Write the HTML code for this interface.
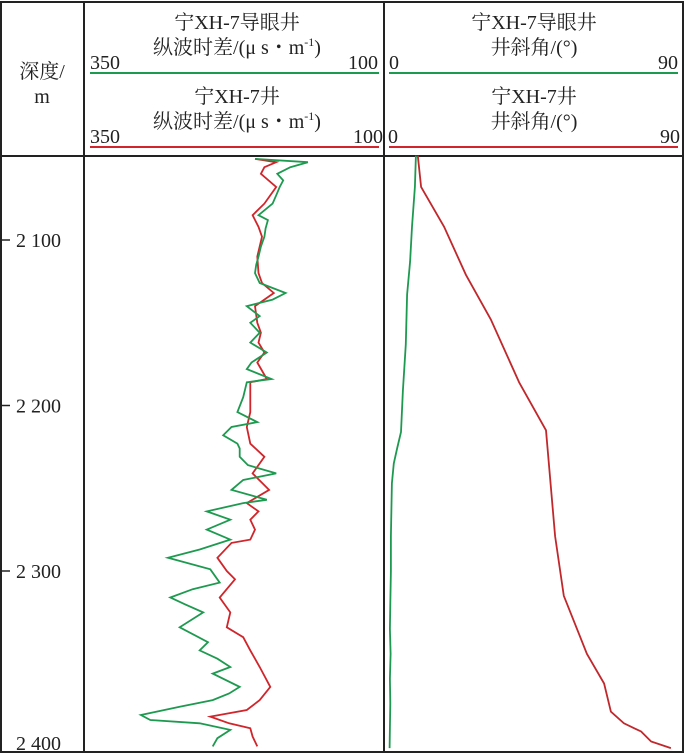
<!DOCTYPE html>
<html><head><meta charset="utf-8">
<style>
html,body{margin:0;padding:0;background:#fff;}
svg{display:block;}
text{font-family:"Liberation Serif","Noto Serif CJK SC",serif;font-size:20px;fill:#222;}
</style></head>
<body>
<svg id="chart" width="700" height="754" viewBox="0 0 700 754">
  <rect x="1" y="2" width="682" height="750" fill="none" stroke="#222" stroke-width="2"/>
  <line x1="84" y1="2" x2="84" y2="752" stroke="#222" stroke-width="2"/>
  <line x1="384" y1="2" x2="384" y2="752" stroke="#222" stroke-width="2"/>
  <line x1="1" y1="156" x2="683" y2="156" stroke="#222" stroke-width="2"/>

  <text x="42" y="78" text-anchor="middle">深度/</text>
  <text x="42" y="103" text-anchor="middle">m</text>

  <g>
    <text x="237" y="29" text-anchor="middle">宁XH-7导眼井</text>
    <text x="237" y="54" text-anchor="middle">纵波时差/(μ s・m<tspan dy="-8" font-size="12">-1</tspan><tspan dy="8">)</tspan></text>
    <text x="90" y="69">350</text>
    <text x="378" y="69" text-anchor="end">100</text>
    <line x1="90" y1="73" x2="379" y2="73" stroke="#1e9a50" stroke-width="2"/>
    <text x="237" y="103" text-anchor="middle">宁XH-7井</text>
    <text x="237" y="128" text-anchor="middle">纵波时差/(μ s・m<tspan dy="-8" font-size="12">-1</tspan><tspan dy="8">)</tspan></text>
    <text x="90" y="143">350</text>
    <text x="383" y="143" text-anchor="end">100</text>
    <line x1="90" y1="147" x2="379" y2="147" stroke="#d0252a" stroke-width="2"/>
  </g>
  <g>
    <text x="534" y="29" text-anchor="middle">宁XH-7导眼井</text>
    <text x="534" y="54" text-anchor="middle">井斜角/(°)</text>
    <text x="389" y="69">0</text>
    <text x="678" y="69" text-anchor="end">90</text>
    <line x1="389" y1="73" x2="678" y2="73" stroke="#1e9a50" stroke-width="2"/>
    <text x="534" y="103" text-anchor="middle">宁XH-7井</text>
    <text x="534" y="128" text-anchor="middle">井斜角/(°)</text>
    <text x="388" y="143">0</text>
    <text x="680" y="143" text-anchor="end">90</text>
    <line x1="389" y1="147" x2="678" y2="147" stroke="#d0252a" stroke-width="2"/>
  </g>
  <g id="ticks"></g>
  <g id="series"></g>
</svg>
<script>
const depthTicks = [2100, 2200, 2300, 2400];
const depthTickLabels = ["2 100", "2 200", "2 300", "2 400"];

const pilotSonicDepth = [2051,2053,2056,2060,2064,2068,2073,2078,2085,2088,2093,2098,2104,2110,2115,2120,2126,2132,2136,2140,2146,2150,2156,2162,2168,2174,2178,2184,2186,2195,2204,2210,2213,2218,2223,2226,2231,2236,2241,2245,2251,2257,2259,2264,2269,2275,2281,2287,2292,2299,2307,2311,2316,2320,2325,2334,2343,2348,2353,2358,2362,2370,2374,2378,2382,2387,2390,2392,2396,2401,2406];
const pilotSonicValue = [208,163,178,189,184,187,190,193,205,197,199,200,203,205,207,208,204,182,193,215,204,212,204,212,198,211,215,194,215,218,223,206,228,235,223,221,221,214,190,218,228,198,218,249,229,249,229,255,282,246,238,261,280,268,252,272,248,255,240,229,244,221,230,244,272,305,297,255,229,240,244];

const wellSonicDepth = [2051,2053,2056,2060,2068,2078,2085,2092,2098,2110,2120,2126,2132,2140,2150,2156,2162,2168,2174,2184,2186,2195,2204,2213,2223,2231,2241,2251,2259,2264,2269,2275,2281,2283,2292,2300,2305,2316,2325,2334,2340,2348,2358,2370,2378,2384,2388,2392,2395,2400,2406];
const wellSonicValue = [208,190,200,203,190,200,210,205,202,206,205,202,192,208,206,203,205,200,206,198,212,212,212,215,212,200,210,196,215,205,212,208,212,228,240,232,225,238,229,232,218,212,204,195,204,215,246,230,212,210,206];

const pilotInclDepth = [2049,2068,2092,2113,2133,2163,2191,2216,2226,2235,2247,2279,2300,2320,2335,2350,2365,2380,2395,2407];
const pilotInclValue = [8.6,8.3,7.4,6.8,5.9,5.5,4.6,4.0,2.8,1.8,1.2,0.9,0.9,0.7,0.6,0.8,0.6,0.7,0.6,0.5];

const wellInclDepth = [2049,2068,2092,2121,2148,2186,2215,2279,2315,2350,2368,2385,2392,2397,2403,2407];
const wellInclValue = [9.2,10.2,17.3,24.0,31.7,40.4,48.7,51.5,54.2,61.3,66.6,68.7,72.7,78.0,81.1,87.2];

const NS = "http://www.w3.org/2000/svg";
function yOf(d){ return 240 + (d - 2100) * 1.655; }
function xSonic(v){ return 88 + (350 - v) / 250 * 294; }
function xIncl(a){ return 388 + a / 90 * 292; }

const tickG = document.getElementById('ticks');
depthTicks.forEach(function(d, i){
  if (d < 2400) {
    const t = document.createElementNS(NS, 'line');
    t.setAttribute('x1', 2); t.setAttribute('x2', 10);
    t.setAttribute('y1', yOf(d)); t.setAttribute('y2', yOf(d));
    t.setAttribute('stroke', '#222'); t.setAttribute('stroke-width', '1.5');
    
    
    tickG.appendChild(t);
  }
  const tx = document.createElementNS(NS, 'text');
  tx.setAttribute('x', 16);
  tx.setAttribute('y', d < 2400 ? yOf(d) + 7 : 750);
  tx.textContent = depthTickLabels[i];
  
  
  tickG.appendChild(tx);
});

const serG = document.getElementById('series');
function drawLine(depths, vals, xf, color, name){
  const pts = depths.map(function(d, i){ return xf(vals[i]).toFixed(1) + ',' + yOf(d).toFixed(1); }).join(' ');
  const p = document.createElementNS(NS, 'polyline');
  p.setAttribute('points', pts);
  p.setAttribute('fill', 'none');
  p.setAttribute('stroke', color);
  p.setAttribute('stroke-width', '1.8');
  
  
  serG.appendChild(p);
}
drawLine(wellSonicDepth, wellSonicValue, xSonic, '#d0252a', 'well-sonic-curve');
drawLine(pilotSonicDepth, pilotSonicValue, xSonic, '#1e9a50', 'pilot-sonic-curve');
drawLine(pilotInclDepth, pilotInclValue, xIncl, '#1e9a50', 'pilot-inclination-curve');
drawLine(wellInclDepth, wellInclValue, xIncl, '#c0282c', 'well-inclination-curve');
</script>
</body></html>
